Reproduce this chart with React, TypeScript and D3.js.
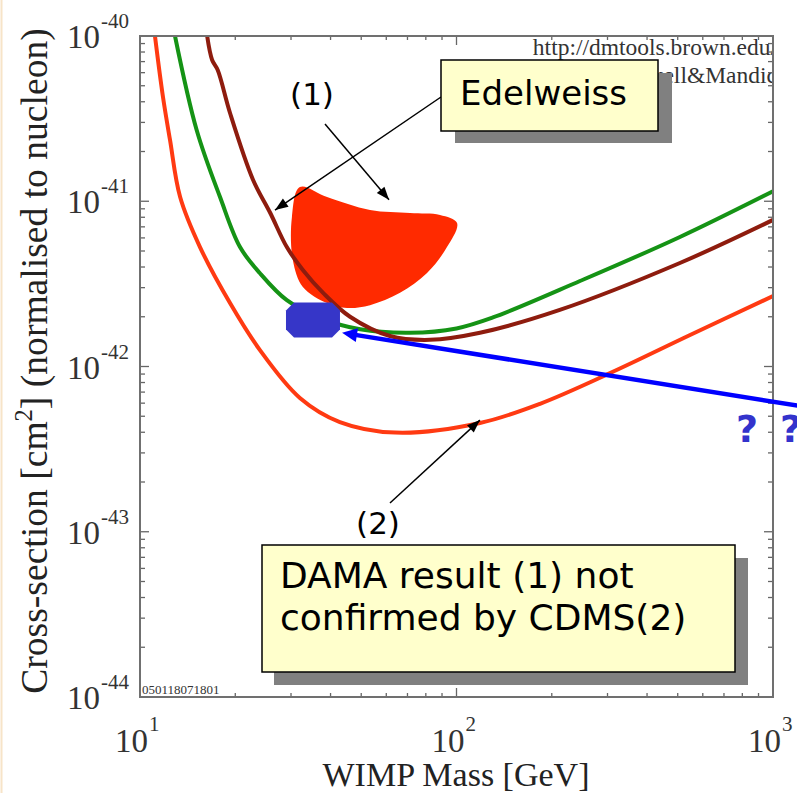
import React from "react";
import * as d3 from "d3";

const W = 797;
const H = 793;

// CDMS (2) limit curve – bright red
const cdmsMass = [11.15, 11.82, 12.44, 13.39, 15.47, 19.25, 23.9, 32, 42.8, 64, 118.6, 183.6, 305.6, 547, 1000];
const cdmsSigma = [1.0e-40, 4.27e-41, 2.35e-41, 1.06e-41, 5.28e-42, 2.42e-42, 1.26e-42, 6.45e-43, 4.61e-43, 3.98e-43, 4.55e-43, 5.95e-43, 9.12e-43, 1.55e-42, 2.67e-42];

// Green limit curve
const greenMass = [12.9, 15.1, 17.9, 20.7, 23.9, 29.1, 37.1, 49.6, 71.3, 100, 130.3, 245.5, 508, 1000];
const greenSigma = [1.0e-40, 2.7e-41, 1.06e-41, 5.28e-42, 3.68e-42, 2.52e-42, 1.97e-42, 1.68e-42, 1.6e-42, 1.7e-42, 1.98e-42, 3.29e-42, 6.08e-42, 1.15e-41];

// Edelweiss limit curve – dark red
const edelMass = [16.3, 16.9, 17.6, 19.25, 22.75, 25.8, 29.1, 32.7, 37.9, 46.1, 61.6, 82.4, 118.6, 212, 508, 1000];
const edelSigma = [1.0e-40, 7.16e-41, 6.22e-41, 3.42e-41, 1.35e-41, 8.49e-42, 5.28e-42, 3.84e-42, 2.79e-42, 2.0e-42, 1.53e-42, 1.45e-42, 1.6e-42, 2.2e-42, 4.23e-42, 7.71e-42];

// DAMA allowed region (1)
const damaMass = [32.0, 39.0, 53.3, 71.3, 88.7, 100.4, 93.3, 80.7, 66.3, 53.3, 45.1, 39.0, 32.7, 30.4, 30.2];
const damaSigma = [1.22e-41, 1.06e-41, 8.85e-42, 8.49e-42, 8.26e-42, 7.38e-42, 5.28e-42, 3.68e-42, 2.79e-42, 2.35e-42, 2.26e-42, 2.42e-42, 3.03e-42, 4.41e-42, 8.04e-42];

// Blue marker (candidate point)
const markerMass = [35.2];
const markerSigma = [1.91e-42];

// annotation arrow tips, data coordinates
const tipEdelweiss = [26.7, 8.85e-42];
const tipOne = [61.2, 1.02e-41];
const tipTwo = [118.6, 4.74e-43];
const tipBlue = [43.5, 1.6e-42];

const xTickExps = [1, 2, 3];
const yTickExps = [-40, -41, -42, -43, -44];

const PL = 140, PR = 773, PT = 36, PB = 697;

function arrowHead(x1: number, y1: number, x2: number, y2: number, len: number, half: number) {
  const dx = x2 - x1, dy = y2 - y1;
  const d = Math.hypot(dx, dy);
  const ux = dx / d, uy = dy / d;
  const bx = x2 - ux * len, by = y2 - uy * len;
  return `${x2},${y2} ${bx - uy * half},${by + ux * half} ${bx + uy * half},${by - ux * half}`;
}

export default function App() {
  const x = d3.scaleLog().domain([10, 1000]).range([PL, PR]);
  const y = d3.scaleLog().domain([1e-44, 1e-40]).range([PB, PT]);

  const line = d3
    .line<[number, number]>()
    .x((d) => x(d[0]))
    .y((d) => y(d[1]))
    .curve(d3.curveCatmullRom.alpha(0.5));

  const closed = d3
    .line<[number, number]>()
    .x((d) => x(d[0]))
    .y((d) => y(d[1]))
    .curve(d3.curveCatmullRomClosed.alpha(0.5));

  const zip = (a: number[], b: number[]) => a.map((v, i) => [v, b[i]] as [number, number]);

  const yTicks = y.ticks();
  const xTicks = x.ticks();

  const mx = x(markerMass[0]);
  const my = y(markerSigma[0]);
  const hw = 27, hh = 17.5, c = 8;
  const octagon = [
    [mx - hw + c, my - hh], [mx + hw - c, my - hh], [mx + hw, my - hh + c], [mx + hw, my + hh - c],
    [mx + hw - c, my + hh], [mx - hw + c, my + hh], [mx - hw, my + hh - c], [mx - hw, my - hh + c],
  ].map((p) => p.join(",")).join(" ");

  const eTip = [x(tipEdelweiss[0]), y(tipEdelweiss[1])];
  const oTip = [x(tipOne[0]), y(tipOne[1])];
  const tTip = [x(tipTwo[0]), y(tipTwo[1])];
  const bTip = [x(tipBlue[0]), y(tipBlue[1])];

  const serif = "'Liberation Serif', 'Times New Roman', serif";
  const sans = "'DejaVu Sans', Verdana, sans-serif";

  return (
    <svg width={W} height={H} style={{ position: "absolute", left: 0, top: 0, background: "#fff" }}>
      <rect x={0} y={0} width={W} height={H} fill="#fff" />
      <line x1={1.5} y1={0} x2={1.5} y2={H} stroke="#f7e4c8" strokeWidth={2} />
      <defs>
        <clipPath id="plot">
          <rect x={PL} y={PT} width={PR - PL} height={PB - PT} />
        </clipPath>
      </defs>

      {/* credits */}
      <g clipPath="url(#plot)" fill="#333" fontFamily={serif}>
        <text x={777} y={55} fontSize={23.5} textAnchor="end">http://dmtools.brown.edu/</text>
        <text x={777} y={83} fontSize={23.5} textAnchor="end">Gaitskell&amp;Mandic</text>
        <text x={142} y={694} fontSize={13}>050118071801</text>
      </g>

      {/* data */}
      <g clipPath="url(#plot)">
        <path d={closed(zip(damaMass, damaSigma)) || ""} fill="#ff2a00" />
        <path d={line(zip(cdmsMass, cdmsSigma)) || ""} fill="none" stroke="#ff3a12" strokeWidth={4} />
        <path d={line(zip(greenMass, greenSigma)) || ""} fill="none" stroke="#159315" strokeWidth={4} />
        <path d={line(zip(edelMass, edelSigma)) || ""} fill="none" stroke="#8e1c0e" strokeWidth={4} />
      </g>

      {/* frame and ticks */}
      <g stroke="#666" strokeWidth={1.3}>
        {yTicks.map((t, i) => {
          const major = Math.abs(Math.log10(t) - Math.round(Math.log10(t))) < 1e-6;
          const L = major ? 9 : 5;
          return (
            <g key={"y" + i}>
              <line x1={PL} x2={PL + L} y1={y(t)} y2={y(t)} />
              <line x1={PR} x2={PR - L} y1={y(t)} y2={y(t)} />
            </g>
          );
        })}
        {xTicks.map((t, i) => {
          const major = Math.abs(Math.log10(t) - Math.round(Math.log10(t))) < 1e-6;
          const L = major ? 9 : 4;
          return (
            <g key={"x" + i}>
              <line x1={x(t)} x2={x(t)} y1={PB} y2={PB - L} />
              <line x1={x(t)} x2={x(t)} y1={PT} y2={PT + L} />
            </g>
          );
        })}
      </g>
      <rect x={PL} y={PT} width={PR - PL} height={PB - PT} fill="none" stroke="#707070" strokeWidth={2} />

      {/* tick labels */}
      <g fill="#333" fontFamily={serif}>
        {yTickExps.map((e) => {
          const ty = y(Math.pow(10, e));
          return (
            <g key={"yl" + e}>
              <text x={100} y={ty + 12} fontSize={33} textAnchor="end">10</text>
              <text x={101} y={ty - 8} fontSize={21}>{String(e)}</text>
            </g>
          );
        })}
        {xTickExps.map((e) => {
          const tx = x(Math.pow(10, e));
          return (
            <g key={"xl" + e}>
              <text x={tx + 8} y={752} fontSize={33} textAnchor="end">10</text>
              <text x={tx + 9} y={731} fontSize={21}>{String(e)}</text>
            </g>
          );
        })}
        <text x={456} y={786} fontSize={34} textAnchor="middle" fill="#222">WIMP Mass [GeV]</text>
        <text transform="translate(47,361) rotate(-90)" fontSize={37.6} textAnchor="middle" fill="#222">
          Cross-section [cm<tspan fontSize={24.5} dy={-15}>2</tspan><tspan dy={15}>] (normalised to nucleon)</tspan>
        </text>
      </g>

      {/* blue marker and arrow */}
      <polygon points={octagon} fill="#3636c8" />
      <line x1={800} y1={406} x2={bTip[0] + 10} y2={bTip[1] + 1.6} stroke="#0000ff" strokeWidth={4.5} />
      <polygon points={arrowHead(800, 406, bTip[0], bTip[1], 15, 7)} fill="#0000ff" />
      <g fill="#3333cc" fontFamily={sans} fontWeight="bold" fontSize={38}>
        <text x={747} y={442} textAnchor="middle">?</text>
        <text x={791} y={442} textAnchor="middle">?</text>
      </g>

      {/* Edelweiss box */}
      <line x1={441} y1={97} x2={eTip[0]} y2={eTip[1]} stroke="#000" strokeWidth={1.5} />
      <polygon points={arrowHead(441, 97, eTip[0], eTip[1], 13, 5)} fill="#000" />
      <rect x={455} y={73} width={217} height={70} fill="#808080" />
      <rect x={441} y={60} width={217} height={71} fill="#ffffcc" stroke="#000" strokeWidth={1.5} />
      <text x={460} y={105} fontFamily={sans} fontSize={34} fill="#000">Edelweiss</text>

      {/* (1) label */}
      <text x={312} y={105} fontFamily={sans} fontSize={31} textAnchor="middle" fill="#000">(1)</text>
      <line x1={325} y1={124} x2={oTip[0]} y2={oTip[1]} stroke="#000" strokeWidth={1.5} />
      <polygon points={arrowHead(325, 124, oTip[0], oTip[1], 13, 5)} fill="#000" />

      {/* (2) label */}
      <text x={378} y={534} fontFamily={sans} fontSize={31} textAnchor="middle" fill="#000">(2)</text>
      <line x1={390} y1={503} x2={tTip[0]} y2={tTip[1]} stroke="#000" strokeWidth={1.5} />
      <polygon points={arrowHead(390, 503, tTip[0], tTip[1], 13, 5)} fill="#000" />

      {/* DAMA box */}
      <rect x={274} y={558} width={474} height={127} fill="#808080" />
      <rect x={262} y={545} width={473} height={127} fill="#ffffcc" stroke="#000" strokeWidth={1.5} />
      <g fontFamily={sans} fontSize={36} fill="#000">
        <text x={280} y={588}>DAMA result (1) not</text>
        <text x={280} y={630}>confirmed by CDMS(2)</text>
      </g>
    </svg>
  );
}
